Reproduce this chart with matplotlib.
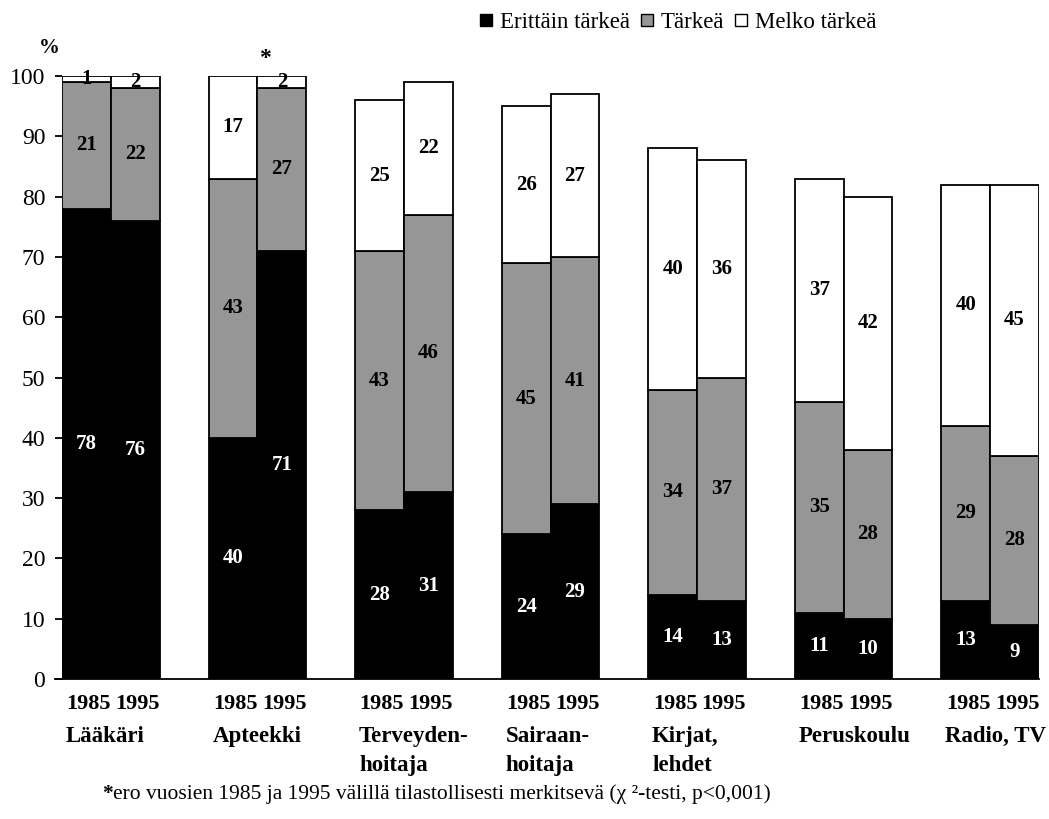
import matplotlib.pyplot as plt
from matplotlib.lines import Line2D
from matplotlib.transforms import blended_transform_factory

plt.rcParams['font.family'] = ['Liberation Serif', 'DejaVu Serif']

categories = ["Lääkäri", "Apteekki", "Terveyden-\nhoitaja", "Sairaan-\nhoitaja",
              "Kirjat,\nlehdet", "Peruskoulu", "Radio, TV"]
years = ["1985", "1995"]

# (1985, 1995) pairs per category
erittain = [(78, 76), (40, 71), (28, 31), (24, 29), (14, 13), (11, 10), (13, 9)]
tarkea = [(21, 22), (43, 27), (43, 46), (45, 41), (34, 37), (35, 28), (29, 28)]
melko = [(1, 2), (17, 2), (25, 22), (26, 27), (40, 36), (37, 42), (40, 45)]

series_names = ["Erittäin tärkeä", "Tärkeä", "Melko tärkeä"]
colors = ["black", "#969696", "white"]
text_colors = ["white", "black", "black"]

fig = plt.figure(figsize=(10.49, 8.19), dpi=100)
ax = fig.add_axes([0.0591, 0.1709, 0.9314, 0.7363])

for i in range(len(categories)):
    for j in range(2):
        x = i * 3 + j
        bottom = 0
        for k, vals in enumerate([erittain, tarkea, melko]):
            v = vals[i][j]
            ax.bar(x, v, width=1, bottom=bottom, align='edge', color=colors[k],
                   edgecolor='black', linewidth=1.3, zorder=2)
            ax.text(x + 0.5, bottom + v / 2, str(v), ha='center', va='center',
                    fontsize=15, fontweight='bold', color=text_colors[k], zorder=3)
            bottom += v

ax.set_xlim(0, 20)
ax.set_ylim(0, 100)
ax.set_yticks(range(0, 101, 10))
ax.set_xticks([])
ax.tick_params(axis='y', labelsize=17, length=5, width=1.3, pad=7)
for side in ['top', 'right', 'left']:
    ax.spines[side].set_visible(False)
ax.spines['bottom'].set_linewidth(1.3)
ax.spines['bottom'].set_bounds(-0.15, 20)

# year and category labels under each group
trans = blended_transform_factory(ax.transData, ax.transAxes)
for i, name in enumerate(categories):
    for j, yr in enumerate(years):
        ax.text(i * 3 + j + 0.55, -0.041, yr, transform=trans, ha='center', va='center',
                fontsize=16, fontweight='bold')
    ax.text(i * 3 + 0.08, -0.078, name, transform=trans, ha='left', va='top',
            fontsize=16.5, fontweight='bold', linespacing=1.5)

ax.text(-0.25, 104.6, "%", ha='center', va='center', fontsize=15, fontweight='bold',
        clip_on=False)
ax.text(4.15, 102.9, "*", ha='center', va='center', fontsize=17, fontweight='bold',
        clip_on=False)

handles = [Line2D([], [], marker='s', linestyle='none', markersize=9,
                  markerfacecolor=c, markeredgecolor='black', markeredgewidth=1)
           for c in colors]
fig.legend(handles, series_names, loc='center', bbox_to_anchor=(0.646, 0.972), ncol=3,
           frameon=False, fontsize=16.5, handlelength=0.6, handletextpad=0.3,
           columnspacing=0.45, borderpad=0)

star = fig.text(0.097, 0.024, "*", fontsize=15.5, fontweight='bold', va='baseline')
ax.annotate("ero vuosien 1985 ja 1995 välillä tilastollisesti merkitsevä (χ ²-testi, p<0,001)",
            xy=(1, 0), xycoords=star, va='bottom', fontsize=15.5)

fig.savefig("out.png", dpi=100)
